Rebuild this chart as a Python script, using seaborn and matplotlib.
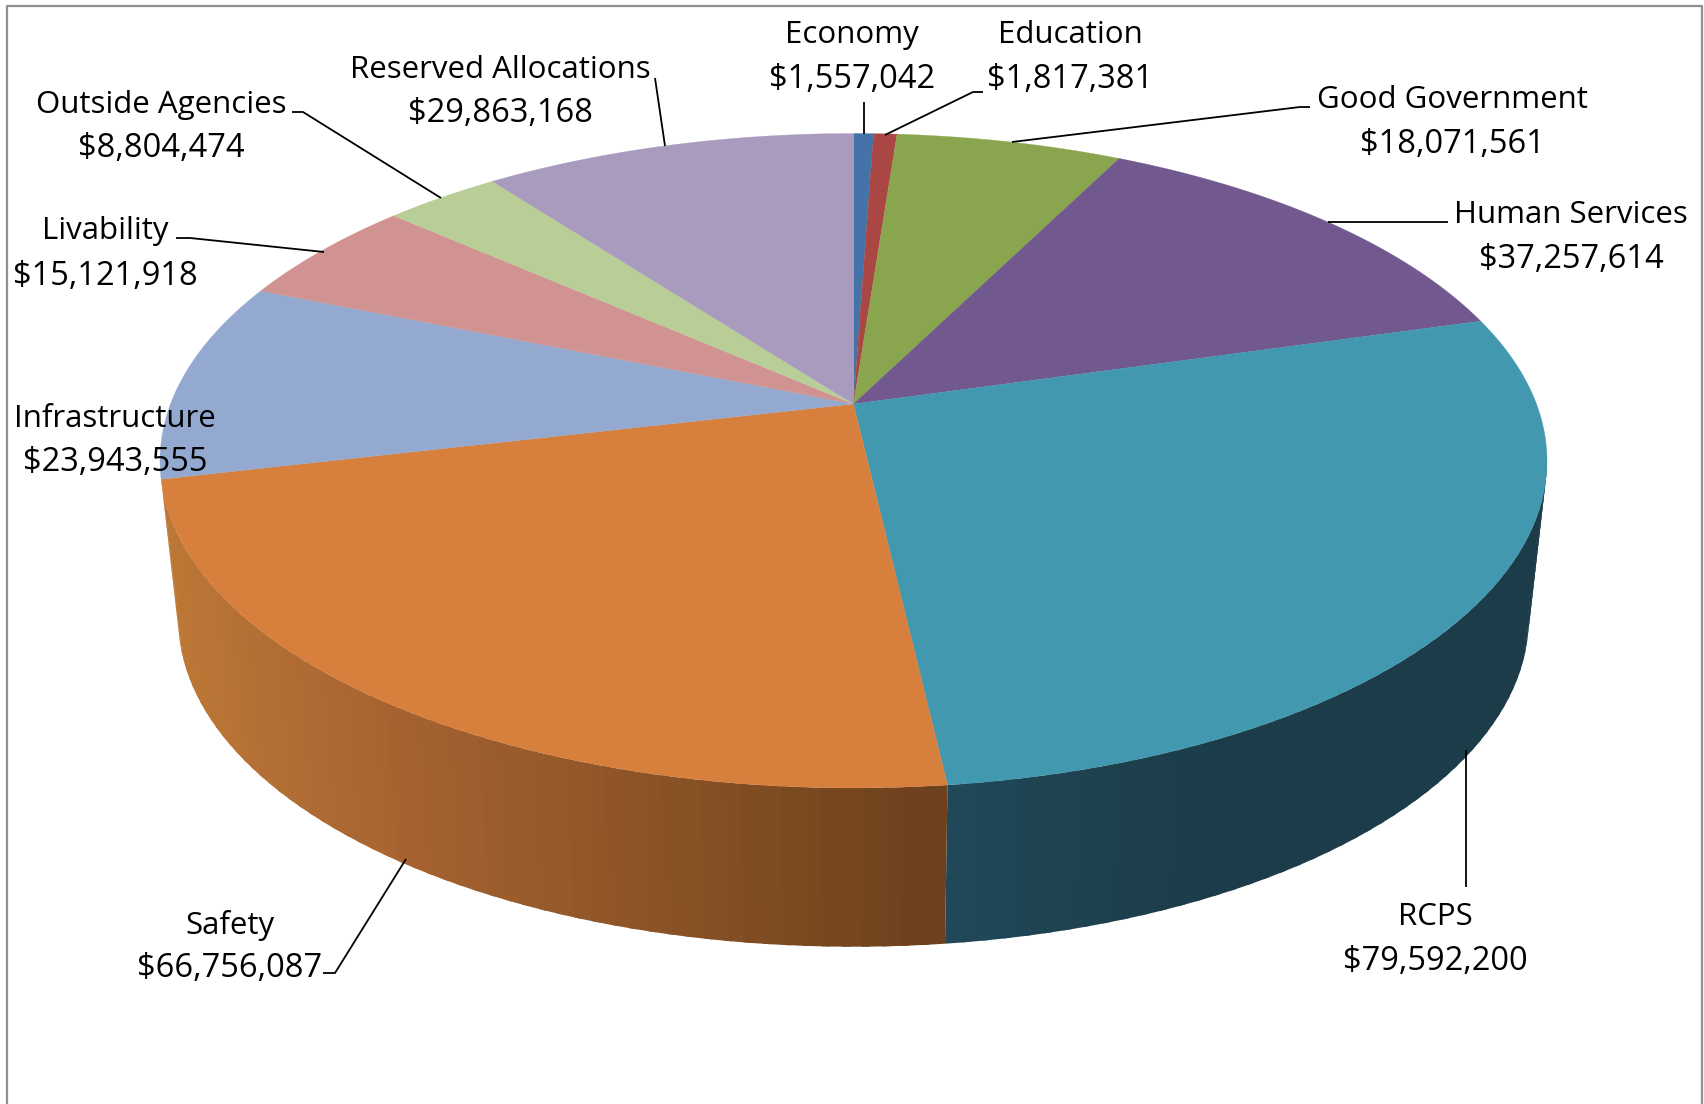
import numpy as np
import seaborn as sns
from matplotlib import pyplot as plt
from matplotlib.colors import to_rgb

# chart data
categories = ["Economy", "Education", "Good Government", "Human Services", "RCPS",
              "Safety", "Infrastructure", "Livability", "Outside Agencies", "Reserved Allocations"]
budget = [1557042, 1817381, 18071561, 37257614, 79592200,
          66756087, 23943555, 15121918, 8804474, 29863168]
slice_colors = ["#4572A7", "#AA4643", "#89A54E", "#71588F", "#4198AF",
                "#D77F3C", "#93A9CF", "#D19392", "#B9CD96", "#A99BBD"]

# label layout: centre x, baseline of name, baseline of amount
label_pos = [(852, 43, 88), (1070, 43, 88), (1452, 108, 153), (1571, 223, 268), (1435, 925, 970),
             (230, 934, 977), (115, 427, 471), (105, 239, 285), (161, 113, 157), (500, 78, 122)]

leaders = [[(864, 102), (864, 134)],
           [(983, 92), (973, 92), (885, 135)],
           [(1310, 107), (1300, 107), (1012, 142)],
           [(1448, 222), (1328, 222)],
           [(1466, 750), (1466, 887)],
           [(323, 973), (335, 973), (406, 859)],
           None,
           [(176, 238), (190, 238), (324, 252)],
           [(292, 112), (303, 112), (441, 198)],
           [(655, 78), (665, 146)]]

# pie geometry in picture pixels, k is the perspective strength
CX = 853.5
K = 0.1734
TOP = dict(a=683.0, b=317.4, cy=404.0)
BOTTOM = dict(a=665.0, b=318.0, cy=562.0)
# the 3d view in the original is not a clean projection, degrees off per slice edge
edge_skew = [0, 0, 0, -0.6, -0.6, -2.6, -4.2, 0.8, 0.6, 1.0, 0]


def project(theta, disc, r=1.0):
    # theta in radians, clockwise from 12 o'clock
    u = r * np.sin(theta)
    v = r * np.cos(theta)
    w = 1 + K * v
    return CX + disc["a"] * u / w, disc["cy"] - disc["b"] * v / w


def wall_color(x, stops):
    xs, cols = zip(*stops)
    cols = np.array([to_rgb(c) for c in cols])
    return [np.interp(x, xs, cols[:, i]) for i in range(3)]


def draw_wall(start, end, stops, n, zorder):
    # strips painted from the silhouette towards the rcps/safety edge, overlapped to hide seams
    steps = np.linspace(start, end, n)
    lo, hi = min(start, end), max(start, end)
    for a, b in zip(steps[:-1], steps[1:]):
        t = np.linspace(np.clip(min(a, b) - 0.005, lo, hi), np.clip(max(a, b) + 0.005, lo, hi), 5)
        x1, y1 = project(t, TOP)
        x2, y2 = project(t, BOTTOM)
        col = wall_color(x1.mean(), stops)
        ax.fill(np.r_[x1, x2[::-1]], np.r_[y1, y2[::-1]], color=col, lw=0, zorder=zorder)


sns.set_theme(style="white")
plt.rcParams["font.family"] = ["Open Sans", "DejaVu Sans"]

fig = plt.figure(figsize=(17.04, 11.04), dpi=100)
ax = fig.add_axes([0, 0, 1, 1])
ax.set_xlim(0, 1704)
ax.set_ylim(1104, 0)
ax.axis("off")

palette = sns.color_palette(slice_colors)
edges = np.concatenate([[0], np.cumsum(budget)]) / np.sum(budget) * 2 * np.pi
edges = edges + np.radians(edge_skew)

# outer frame, bottom is cut off in the original
ax.plot([7, 7, 1702, 1702], [1104, 6, 6, 1104], color="#8f8f8f", lw=1.6, zorder=1)

# side wall
safety_stops = [(170, "#BC7736"), (400, "#A66330"), (800, "#7B4A21"), (945, "#6C401C")]
rcps_stops = [(945, "#20495A"), (1120, "#1D404C"), (1250, "#1B3C48"), (1550, "#1B3C48")]
draw_wall(np.arccos(-K), edges[5], rcps_stops, 50, 2)
draw_wall(edges[6], edges[5], safety_stops, 60, 2)

# top face
for i, name in enumerate(categories):
    t = np.linspace(edges[i], edges[i + 1], 200)
    x, y = project(t, TOP)
    ax.fill(np.r_[CX, x], np.r_[TOP["cy"], y], color=palette[i], lw=0.2, zorder=3)

for line in leaders:
    if line is None:
        continue
    xs, ys = zip(*line)
    ax.plot(xs, ys, color="black", lw=1.3, solid_capstyle="butt", zorder=4)

for name, amount, (lx, y1, y2) in zip(categories, budget, label_pos):
    ax.text(lx, y1, name, ha="center", va="baseline", fontsize=22.5, color="black", zorder=5)
    ax.text(lx, y2, f"${amount:,}", ha="center", va="baseline", fontsize=23.5, color="black", zorder=5)

fig.savefig("out.png", dpi=100, facecolor="white")
